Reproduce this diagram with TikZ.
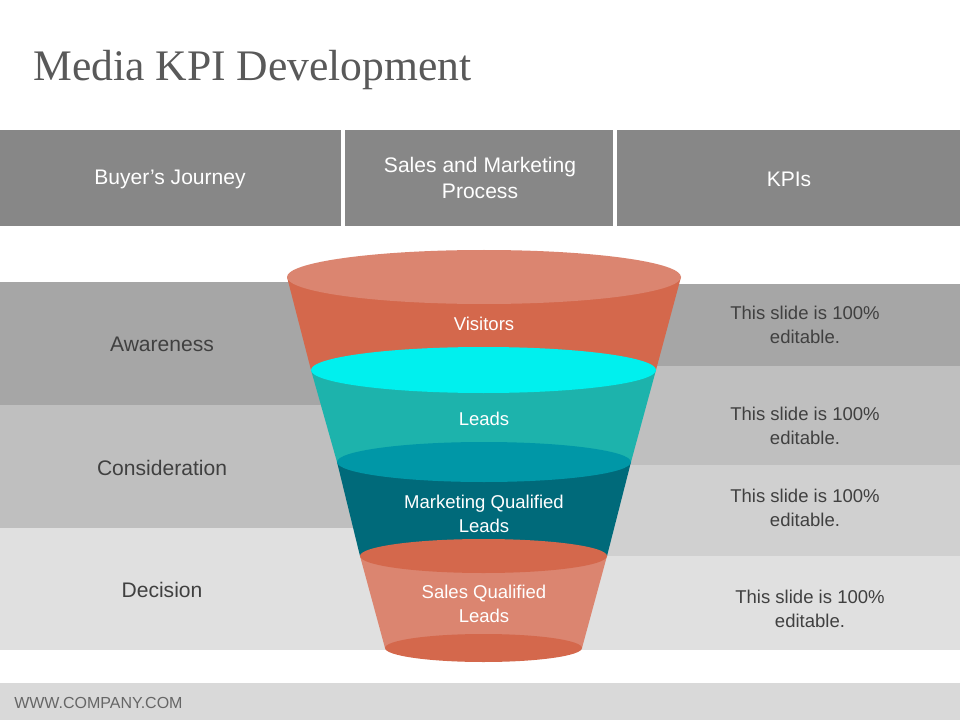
\documentclass[tikz,border=0pt]{standalone}
\usepackage{fontspec}
\setmainfont{Liberation Sans}
\newfontfamily\titlefont{Liberation Serif}
\definecolor{hdr}{HTML}{878787}
\definecolor{rowA}{HTML}{A6A6A6}
\definecolor{rowB}{HTML}{BFBFBF}
\definecolor{rowC}{HTML}{D0D0D0}
\definecolor{rowD}{HTML}{E0E0E0}
\definecolor{foot}{HTML}{D9D9D9}
\definecolor{coral}{HTML}{D4684C}
\definecolor{coralL}{HTML}{DB8570}
\definecolor{cyanT}{HTML}{00F0EE}
\definecolor{teal}{HTML}{1DB3AC}
\definecolor{tealD}{HTML}{0097A7}
\definecolor{petrol}{HTML}{006A7A}
\definecolor{txt}{HTML}{404040}
\tikzset{
 hbox/.style={fill=hdr,draw=none},
 htext/.style={text=white,font=\fontsize{15.8}{19}\selectfont,align=center},
 ltext/.style={text=txt,font=\fontsize{15.8}{19}\selectfont},
 rtext/.style={text=txt,font=\fontsize{13.9}{17.5}\selectfont,align=center},
 ftext/.style={text=white,font=\fontsize{13.9}{17.5}\selectfont,align=center},
}
\begin{document}
\begin{tikzpicture}[x=0.75pt,y=-0.75pt]
\useasboundingbox (0,0) rectangle (960,720);
\fill[white] (0,0) rectangle (960,720);
\node[anchor=base west,text=black!65,font=\titlefont\fontsize{32.7}{38}\selectfont,inner sep=0] (title) at (33,81) {Media KPI Development};
% header
\fill[hbox] (0,130) rectangle (341,226);
\fill[hbox] (345,130) rectangle (613,226);
\fill[hbox] (617,130) rectangle (960,226);
\node[htext] (h1) at (170,179) {Buyer’s Journey};
\node[htext] (h2) at (480,178) {Sales and Marketing\\Process};
\node[htext] (h3) at (789,179) {KPIs};
% rows
\fill[rowA] (0,282) rectangle (400,405);
\fill[rowB] (0,405) rectangle (400,528);
\fill[rowD] (0,528) rectangle (420,650);
\fill[rowA] (560,284) rectangle (960,366);
\fill[rowB] (560,366) rectangle (960,465);
\fill[rowC] (560,465) rectangle (960,556);
\fill[rowD] (560,556) rectangle (960,650);
\node[ltext] (l1) at (162,344) {Awareness};
\node[ltext] (l2) at (162,468) {Consideration};
\node[ltext] (l3) at (162,590) {Decision};
\node[rtext] (r1) at (805,325) {This slide is 100\%\\editable.};
\node[rtext] (r2) at (805,426) {This slide is 100\%\\editable.};
\node[rtext] (r3) at (805,508) {This slide is 100\%\\editable.};
\node[rtext] (r4) at (810,609) {This slide is 100\%\\editable.};
% funnel
\fill[coral] (287,277) -- (311,370) -- (656,370) -- (681,277) -- cycle;
\fill[coralL] (484,277) ellipse [x radius=197, y radius=27];
\fill[teal] (311,370) -- (337,462) -- (631,462) -- (656,370) -- cycle;
\fill[cyanT] (483.5,370) ellipse [x radius=172.5, y radius=23];
\fill[petrol] (337,462) -- (360,556) -- (607,556) -- (631,462) -- cycle;
\fill[tealD] (484,462) ellipse [x radius=147, y radius=20];
\fill[coralL] (360,556) -- (385,648) -- (582,648) -- (607,556) -- cycle;
\fill[coral] (483.5,556) ellipse [x radius=123.5, y radius=17];
\fill[coral] (483.5,648) ellipse [x radius=98.5, y radius=14];
\node[ftext] (f1) at (484,324) {Visitors};
\node[ftext] (f2) at (484,419) {Leads};
\node[ftext] (f3) at (484,514) {Marketing Qualified\\Leads};
\node[ftext] (f4) at (484,604) {Sales Qualified\\Leads};
% footer
\fill[foot] (0,683) rectangle (960,720);
\node[anchor=west,text=black!60,font=\fontsize{12}{14}\selectfont,inner sep=0] (url) at (14,703) {WWW.COMPANY.COM};
\end{tikzpicture}
\end{document}
